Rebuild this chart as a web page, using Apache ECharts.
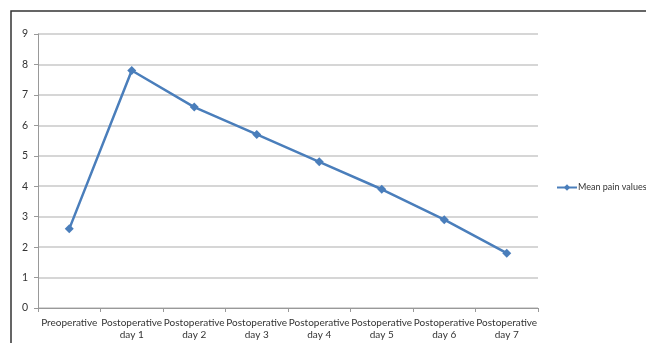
<!DOCTYPE html>
<html>
<head>
<meta charset="utf-8">
<script src="https://cdn.jsdelivr.net/npm/echarts@6/dist/echarts.min.js"></script>
<style>
  html, body { margin: 0; padding: 0; background: #fff; }
  #chart { width: 646px; height: 343px; }
</style>
</head>
<body>
<div id="chart"></div>
<script>
// Time points of the pain assessment
const categories = [
  'Preoperative',
  'Postoperative\nday 1',
  'Postoperative\nday 2',
  'Postoperative\nday 3',
  'Postoperative\nday 4',
  'Postoperative\nday 5',
  'Postoperative\nday 6',
  'Postoperative\nday 7'
];
// Mean pain score at each time point
const meanPain = [2.6, 7.8, 6.6, 5.7, 4.8, 3.9, 2.9, 1.8];
const seriesName = 'Mean pain values';
const yMin = 0, yMax = 9, yStep = 1;

const lineColor = '#4a7ebb';
const font = 'Lato, "Open Sans", sans-serif';

const chart = echarts.init(document.getElementById('chart'), null, { renderer: 'canvas' });
chart.setOption({
  animation: false,
  backgroundColor: '#fff',
  graphic: [{
    type: 'rect',
    shape: { x: 11, y: 11, width: 700, height: 400 },
    style: { fill: 'none', stroke: '#333', lineWidth: 1.5 },
    silent: true
  }],
  grid: { left: 38, right: 108, top: 34, bottom: 35, containLabel: false },
  legend: {
    data: [seriesName],
    left: 551, top: 178,
    itemWidth: 20, itemHeight: 8,
    itemGap: 2,
    textStyle: { fontFamily: font, fontSize: 9, color: '#333', padding: [0, 0, 0, -4] }
  },
  xAxis: {
    type: 'category',
    data: categories,
    boundaryGap: true,
    axisLine: { show: true, lineStyle: { color: '#999', width: 1 } },
    axisTick: { show: true, alignWithLabel: false, length: 4, lineStyle: { color: '#999' } },
    axisLabel: { fontFamily: font, fontSize: 10, color: '#333', margin: 9, lineHeight: 12, interval: 0 },
    splitLine: { show: false }
  },
  yAxis: {
    type: 'value',
    min: yMin, max: yMax, interval: yStep,
    axisLine: { show: true, lineStyle: { color: '#999', width: 1 } },
    axisTick: { show: true, inside: false, length: 4, lineStyle: { color: '#999' } },
    axisLabel: { fontFamily: font, fontSize: 10.5, color: '#333', margin: 10 },
    splitLine: { show: true, lineStyle: { color: '#c8c8c8', width: 1.5 } }
  },
  series: [{
    name: seriesName,
    type: 'line',
    data: meanPain,
    symbol: 'diamond',
    symbolSize: 9,
    itemStyle: { color: lineColor },
    lineStyle: { color: lineColor, width: 2.5 }
  }]
});
</script>
</body>
</html>
